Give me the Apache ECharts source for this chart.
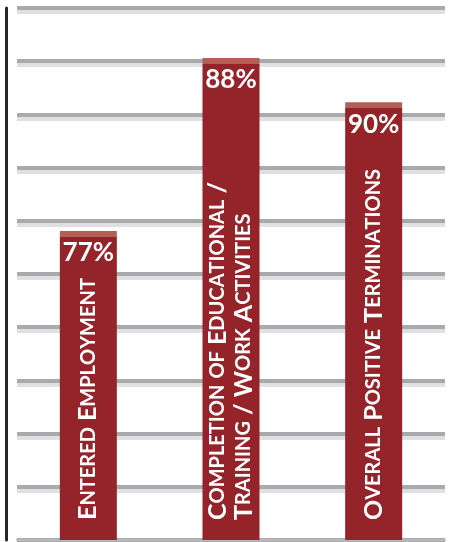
<!DOCTYPE html>
<html>
<head>
<meta charset="utf-8">
<script src="https://cdn.jsdelivr.net/npm/echarts@6/dist/echarts.min.js"></script>
<style>
html,body{margin:0;padding:0;background:#fff;}
#chart{width:456px;height:542px;}
</style>
</head>
<body>
<div id="chart"></div>
<script>
// Data
var categories = ['Entered Employment', 'Completion of Educational /\nTraining / Work Activities', 'Overall Positive Terminations'];
var barValues = [58.1, 90.6, 82.3];
var percentLabels = ['77%', '88%', '90%'];
var yTicks = [0, 10, 20, 30, 40, 50, 60, 70, 80, 90, 100];

var FONT = 'Lato, "Open Sans", sans-serif';
var BAR = '#94232a';
var CAP = '#b26055';
var capUnits = 1.15;

function smallCaps(str) {
  var out = '';
  for (var i = 0; i < str.length; i++) {
    var c = str[i];
    if (c === '\n') { out += '\n'; continue; }
    if (c >= 'a' && c <= 'z') out += '{s|' + c.toUpperCase() + '}';
    else out += '{b|' + c + '}';
  }
  return out;
}

var mainData = barValues.map(function (v, i) {
  var f = capUnits / v;
  return {
    value: v,
    itemStyle: {
      color: new echarts.graphic.LinearGradient(0, 0, 0, 1, [
        { offset: 0, color: CAP },
        { offset: f, color: CAP },
        { offset: f, color: BAR },
        { offset: 1, color: BAR }
      ])
    }
  };
});

var chart = echarts.init(document.getElementById('chart'), null, { renderer: 'canvas' });
chart.setOption({
  animation: false,
  backgroundColor: '#ffffff',
  grid: { left: 17, right: 11, top: 8, bottom: 2 },
  xAxis: {
    type: 'category',
    data: categories,
    axisLine: { show: true, lineStyle: { color: '#b9b9bb', width: 2 } },
    axisTick: { show: false },
    axisLabel: { show: false }
  },
  yAxis: {
    type: 'value',
    min: yTicks[0],
    max: yTicks[yTicks.length - 1],
    interval: yTicks[1] - yTicks[0],
    offset: 11,
    axisLine: { show: true, lineStyle: { color: '#2b2624', width: 3 } },
    axisTick: { show: false },
    axisLabel: { show: false },
    splitLine: {
      show: true,
      lineStyle: { color: '#a9aaad', width: 4, shadowColor: '#e0e0e2', shadowOffsetY: 4, shadowBlur: 0 }
    }
  },
  series: [
    {
      type: 'bar',
      data: mainData,
      barWidth: 57,
      silent: true,
      label: {
        show: true,
        position: 'insideBottom',
        rotate: 90,
        align: 'left',
        verticalAlign: 'middle',
        distance: 20,
        formatter: function (p) { return smallCaps(categories[p.dataIndex]); },
        rich: {
          b: { fontSize: 25, fontWeight: 'bold', color: '#ffffff', fontFamily: FONT, lineHeight: 26 },
          s: { fontSize: 20, fontWeight: 'bold', color: '#ffffff', fontFamily: FONT, lineHeight: 26 }
        }
      }
    },
    {
      type: 'bar',
      data: barValues,
      barWidth: 57,
      barGap: '-100%',
      silent: true,
      itemStyle: { color: 'rgba(0,0,0,0)' },
      label: {
        show: true,
        position: 'insideTop',
        distance: 9,
        color: '#ffffff',
        fontSize: 26,
        fontWeight: 'bold',
        fontFamily: FONT,
        formatter: function (p) { return percentLabels[p.dataIndex]; }
      }
    }
  ]
});
</script>
</body>
</html>
